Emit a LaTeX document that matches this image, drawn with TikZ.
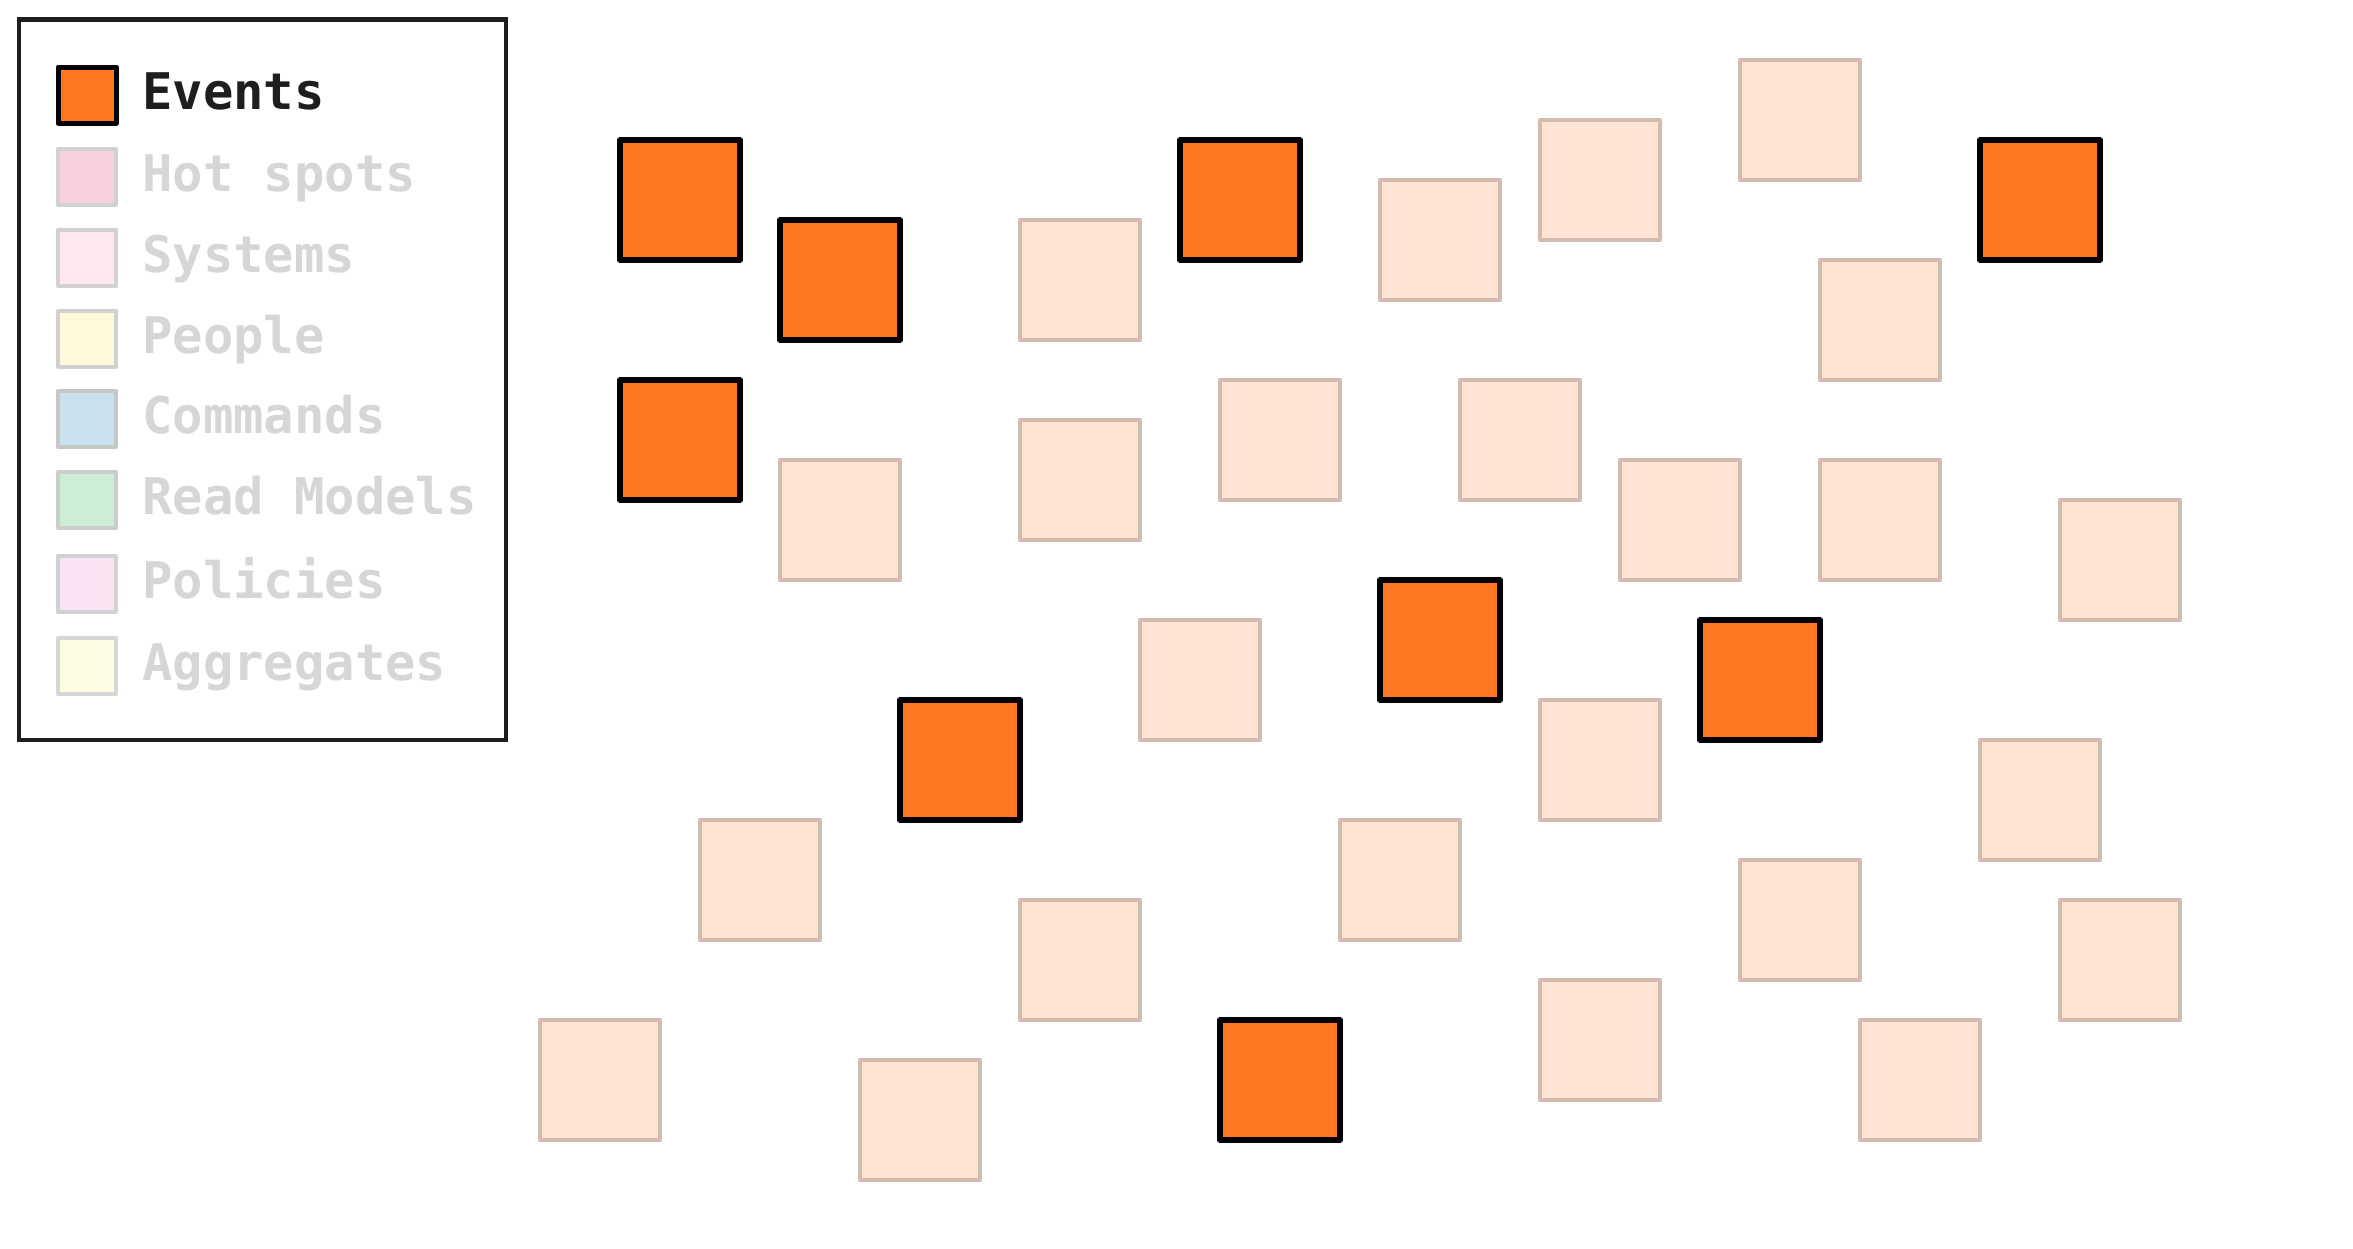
\documentclass[tikz,border=0pt]{standalone}
\usepackage{fontspec}
\setmonofont{DejaVu Sans Mono}
\usepackage{tikz}

\definecolor{evtfill}{HTML}{FD7622}
\definecolor{paleorange}{HTML}{FFE4D5}
\definecolor{paleedge}{HTML}{D2BCB0}
\definecolor{fadedtext}{HTML}{D6D6D6}
\definecolor{inkblack}{HTML}{1E1E1E}

\tikzset{
  evt/.style={draw=black,fill=evtfill,line width=5.5pt,line join=round},
  paleevt/.style={draw=paleedge,fill=paleorange,line width=4pt,line join=round},
  swatch/.style={line width=4pt,line join=round},
  legendtext/.style={anchor=base west,inner sep=0pt,font=\ttfamily\bfseries\fontsize{50.5}{60}\selectfont}
}

\begin{document}
\begin{tikzpicture}[x=1pt,y=-1pt]
\useasboundingbox (0,0) rectangle (2353,1248);
% faded event stickies:
\foreach \i/\j in {12/4,21/3,25/1.5,30/0,32/5,6/10,12/9,17/8,23/8,27/10,32/10,38/11,
                   15/14,25/16,36/17,4/19,20/19,12/21,30/20,38/21,0/24,8/25,25/23,33/24}
  \path[paleevt] (540+40*\i,60+40*\j) rectangle ++(120,120);
% highlighted event stickies:
\foreach \i/\j in {2/2,6/4,16/2,36/2,2/8,21/13,29/14,9/16,17/24}
  \path[evt] (540+40*\i,60+40*\j) rectangle ++(120,120);
% legend:
\draw[inkblack,line width=4.5pt] (19,19.5) rectangle (506,740);
\path[swatch,draw=black,line width=5pt,fill=evtfill] (58,67) rectangle (116,123);
\path[swatch,draw=black!18,fill={rgb,255:red,247;green,207;blue,222}] (58,149) rectangle (116,205);
\path[swatch,draw=black!18,fill={rgb,255:red,255;green,232;blue,240}] (58,230) rectangle (116,286);
\path[swatch,draw=black!18,fill={rgb,255:red,255;green,248;blue,218}] (58,311) rectangle (116,367);
\path[swatch,draw=black!22,fill={rgb,255:red,202;green,224;blue,236}] (58,391) rectangle (116,447);
\path[swatch,draw=black!20,fill={rgb,255:red,204;green,238;blue,212}] (58,472) rectangle (116,528);
\path[swatch,draw=black!18,fill={rgb,255:red,248;green,226;blue,244}] (58,556) rectangle (116,612);
\path[swatch,draw=black!16,fill={rgb,255:red,254;green,252;blue,226}] (58,638) rectangle (116,694);
\node[legendtext,text=inkblack] (events) at (142,109) {Events};
\node[legendtext,text=fadedtext] (hotspots) at (142,191) {Hot spots};
\node[legendtext,text=fadedtext] (systems) at (142,272) {Systems};
\node[legendtext,text=fadedtext] (people) at (142,353) {People};
\node[legendtext,text=fadedtext] (commands) at (142,433) {Commands};
\node[legendtext,text=fadedtext] (readmodels) at (142,514) {Read Models};
\node[legendtext,text=fadedtext] (policies) at (142,598) {Policies};
\node[legendtext,text=fadedtext] (aggregates) at (142,680) {Aggregates};
\end{tikzpicture}
\end{document}
